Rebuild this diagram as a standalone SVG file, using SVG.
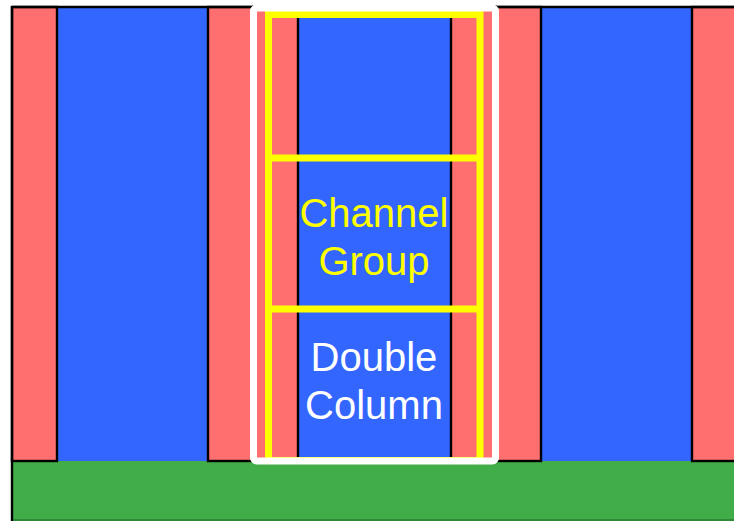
<svg xmlns="http://www.w3.org/2000/svg" width="734" height="521" viewBox="0 0 734 521">
  <style>
    .blue { fill: #3366FF; }
    .red { fill: #FF6F6F; stroke: #000000; stroke-width: 2.4; }
    .ladder { fill: none; stroke: #FFFF00; stroke-width: 7; }
    .label { font-family: "Liberation Sans", Arial, sans-serif; font-size: 40px; text-anchor: middle; }
  </style>

  <!-- page background -->
  <rect x="0" y="0" width="734" height="521" fill="#FFFFFF"/>

  <!-- substrate -->
  <g id="substrate">
    <rect x="12" y="461" width="730" height="60" fill="#41AD48"/>
    <line x1="12" y1="520" x2="734" y2="520" stroke="#2E8A36" stroke-width="2"/>
  </g>

  <!-- wide blue columns -->
  <g id="blue-columns">
    <rect class="blue" x="57" y="7" width="151" height="454"/>
    <rect class="blue" x="298" y="7" width="153" height="454"/>
    <rect class="blue" x="541" y="7" width="151" height="454"/>
  </g>

  <!-- narrow red channels -->
  <g id="red-channels">
    <rect class="red" x="12" y="7" width="45" height="454"/>
    <rect class="red" x="208" y="7" width="45" height="454"/>
    <rect class="red" x="253" y="7" width="45" height="454"/>
    <rect class="red" x="451" y="7" width="45" height="454"/>
    <rect class="red" x="496" y="7" width="45" height="454"/>
    <rect class="red" x="692" y="7" width="50" height="454"/>
  </g>

  <!-- outer border -->
  <g id="border">
    <line x1="12" y1="7" x2="734" y2="7" stroke="#000000" stroke-width="2.4"/>
    <line x1="12" y1="6" x2="12" y2="521" stroke="#000000" stroke-width="2.4"/>
  </g>

  <!-- channel group ladder -->
  <g id="channel-group">
    <rect class="ladder" x="268.5" y="14.5" width="211.5" height="446"/>
    <line class="ladder" x1="268.5" y1="158" x2="480" y2="158"/>
    <line class="ladder" x1="268.5" y1="309" x2="480" y2="309"/>
    <text class="label" x="374" y="227" fill="#FFFF00">Channel</text>
    <text class="label" x="374" y="275" fill="#FFFF00">Group</text>
  </g>

  <!-- double column frame -->
  <g id="double-column">
    <rect x="253.5" y="8" width="242" height="453" rx="3" fill="none" stroke="#FFFFFF" stroke-width="7" stroke-linejoin="round"/>
    <text class="label" x="374" y="371" fill="#FFFFFF">Double</text>
    <text class="label" x="374" y="419" fill="#FFFFFF">Column</text>
  </g>
</svg>
